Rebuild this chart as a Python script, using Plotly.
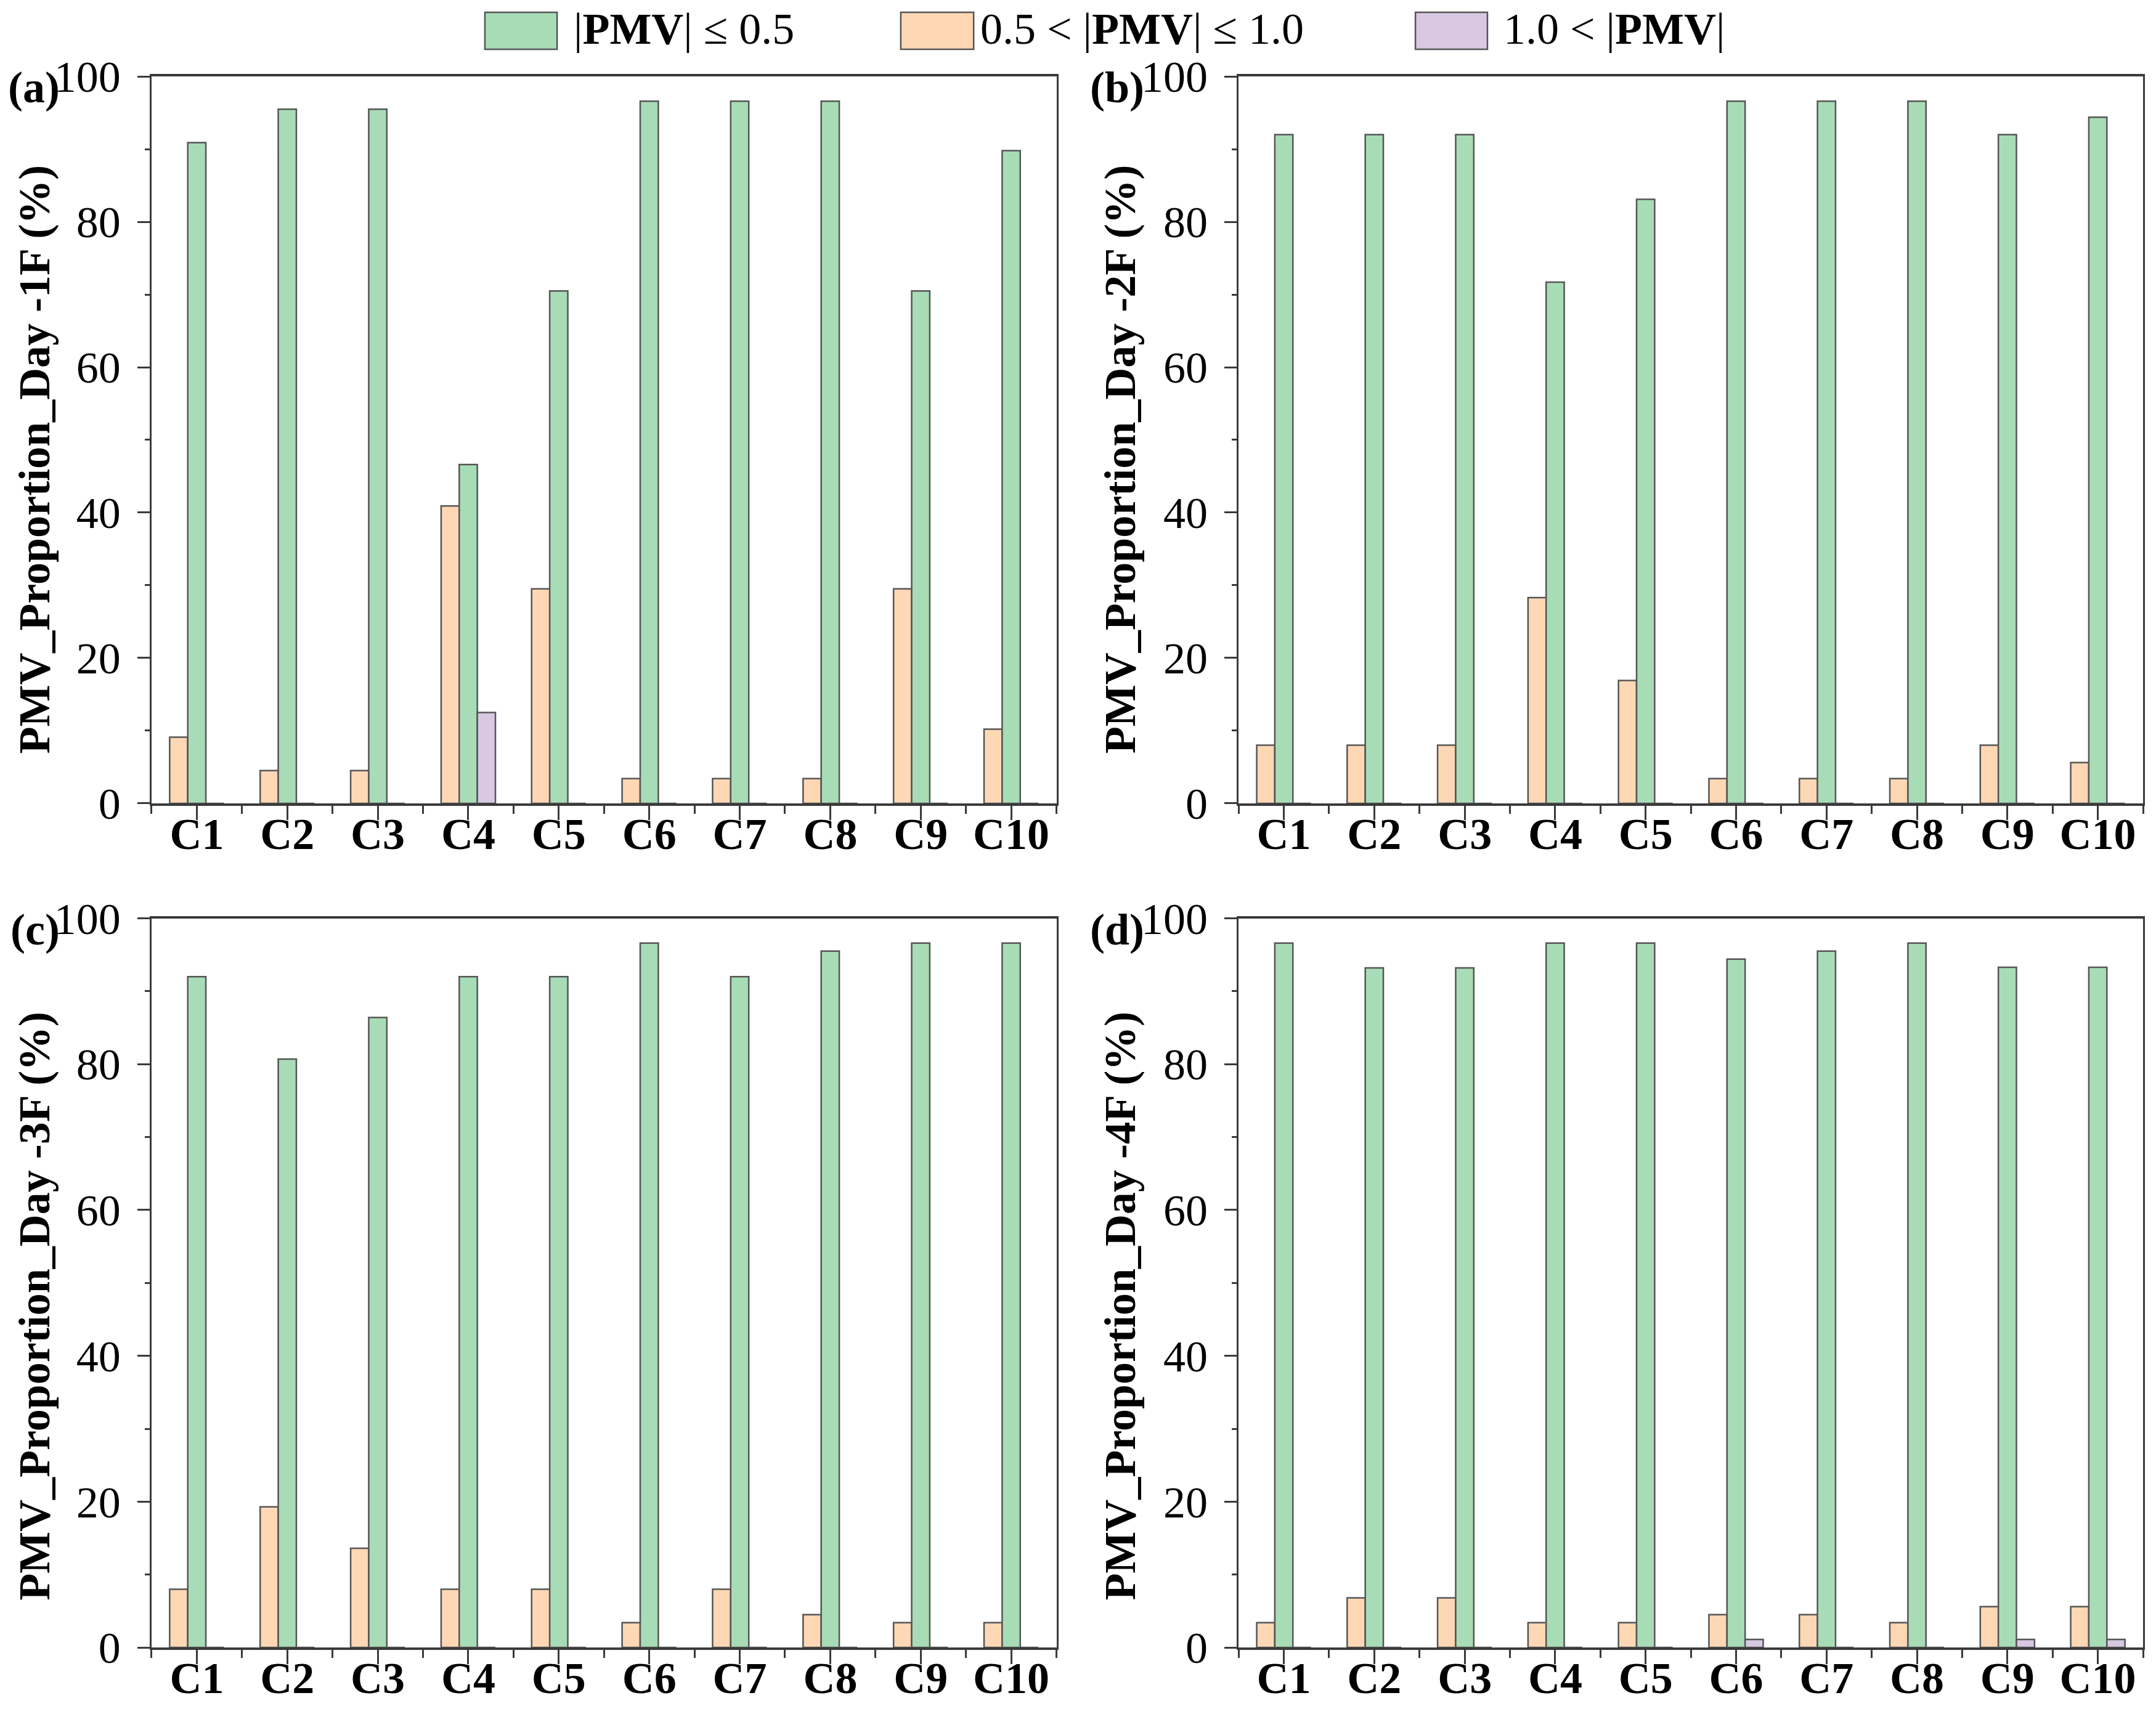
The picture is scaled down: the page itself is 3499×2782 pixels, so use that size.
import plotly.graph_objects as go

# categories (cases)
cases = ['C1', 'C2', 'C3', 'C4', 'C5', 'C6', 'C7', 'C8', 'C9', 'C10']

# PMV proportions (%) per floor
# |PMV| <= 0.5
comfort_1f = [90.9, 95.5, 95.5, 46.6, 70.5, 96.6, 96.6, 96.6, 70.5, 89.8]
comfort_2f = [92.0, 92.0, 92.0, 71.7, 83.1, 96.6, 96.6, 96.6, 92.0, 94.4]
comfort_3f = [92.0, 80.7, 86.4, 92.0, 92.0, 96.6, 92.0, 95.5, 96.6, 96.6]
comfort_4f = [96.6, 93.2, 93.2, 96.6, 96.6, 94.4, 95.5, 96.6, 93.3, 93.3]
# 0.5 < |PMV| <= 1.0
mild_1f = [9.1, 4.5, 4.5, 40.9, 29.5, 3.4, 3.4, 3.4, 29.5, 10.2]
mild_2f = [8.0, 8.0, 8.0, 28.3, 16.9, 3.4, 3.4, 3.4, 8.0, 5.6]
mild_3f = [8.0, 19.3, 13.6, 8.0, 8.0, 3.4, 8.0, 4.5, 3.4, 3.4]
mild_4f = [3.4, 6.8, 6.8, 3.4, 3.4, 4.5, 4.5, 3.4, 5.6, 5.6]
# 1.0 < |PMV|
severe_1f = [0, 0, 0, 12.5, 0, 0, 0, 0, 0, 0]
severe_2f = [0, 0, 0, 0, 0, 0, 0, 0, 0, 0]
severe_3f = [0, 0, 0, 0, 0, 0, 0, 0, 0, 0]
severe_4f = [0, 0, 0, 0, 0, 1.1, 0, 0, 1.1, 1.1]

floors = ['1F', '2F', '3F', '4F']
panel_labels = ['(a)', '(b)', '(c)', '(d)']
y_ticks = [0, 20, 40, 60, 80, 100]

GREEN = '#A8DCB7'
ORANGE = '#FED7B4'
PURPLE = '#D8C8E2'
EDGE = '#555555'
AXIS = '#3a3a3a'
FONT = 'Liberation Serif'

panels = [
    (comfort_1f, mild_1f, severe_1f),
    (comfort_2f, mild_2f, severe_2f),
    (comfort_3f, mild_3f, severe_3f),
    (comfort_4f, mild_4f, severe_4f),
]

# axis domains (paper coords)
x_domains = [[0.0703, 0.490], [0.5745, 0.9940], [0.0703, 0.490], [0.5745, 0.9940]]
y_domains = [[0.5313, 0.9554], [0.5313, 0.9554], [0.0388, 0.4642], [0.0388, 0.4642]]

xpos = list(range(len(cases)))

fig = go.Figure()

for i, (comfort, mild, severe) in enumerate(panels):
    xa = 'x' if i == 0 else f'x{i + 1}'
    ya = 'y' if i == 0 else f'y{i + 1}'
    # order in group: orange, green (centre), purple
    for vals, col, name in [(mild, ORANGE, '0.5 < |PMV| ≤ 1.0'),
                            (comfort, GREEN, '|PMV| ≤ 0.5'),
                            (severe, PURPLE, '1.0 < |PMV|')]:
        fig.add_trace(go.Bar(x=xpos, y=vals, name=name, xaxis=xa, yaxis=ya,
                             marker=dict(color=col, line=dict(color=EDGE, width=2.5)),
                             showlegend=False))

layout_axes = {}
for i in range(4):
    sx = 'xaxis' if i == 0 else f'xaxis{i + 1}'
    sy = 'yaxis' if i == 0 else f'yaxis{i + 1}'
    xa = 'x' if i == 0 else f'x{i + 1}'
    ya = 'y' if i == 0 else f'y{i + 1}'
    layout_axes[sx] = dict(
        domain=x_domains[i], anchor=ya, range=[-0.5, 9.5], automargin=False,
        tickmode='array', tickvals=xpos, ticktext=cases,
        ticks='outside', ticklen=23, tickwidth=2.5, tickcolor=AXIS,
        ticklabelstandoff=-39,
        minor=dict(tick0=-0.5, dtick=1, ticks='outside', ticklen=13,
                   tickwidth=2.5, tickcolor=AXIS),
        showline=True, linewidth=4, linecolor=AXIS, mirror=True,
        showgrid=False, zeroline=False,
        tickfont=dict(family=FONT, size=72, color='black', weight='bold'),
    )
    layout_axes[sy] = dict(
        domain=y_domains[i], anchor=xa, range=[0, 100], automargin=False,
        tickmode='array', tickvals=y_ticks,
        ticks='outside', ticklen=20, tickwidth=3, tickcolor=AXIS,
        ticklabelstandoff=13,
        minor=dict(tick0=0, dtick=10, ticks='outside', ticklen=8,
                   tickwidth=3, tickcolor=AXIS),
        showline=True, linewidth=2.5, linecolor=AXIS, mirror=True,
        showgrid=False, zeroline=False,
        tickfont=dict(family=FONT, size=72, color='black'),
    )

fig.update_layout(**layout_axes)

annotations = []
title_x = [0.0160, 0.5195, 0.0160, 0.5195]
title_y = [0.732, 0.732, 0.238, 0.238]
label_x = [0.0282, 0.5312, 0.0282, 0.5312]
label_y = [0.949, 0.949, 0.4576, 0.4576]
for i in range(4):
    annotations.append(dict(
        text=f'PMV_Proportion_Day -{floors[i]} (%)', textangle=-90,
        x=title_x[i], y=title_y[i], xref='paper', yref='paper',
        xanchor='center', yanchor='middle', showarrow=False,
        font=dict(family=FONT, size=72, color='black', weight='bold')))
    annotations.append(dict(
        text=f'<b>{panel_labels[i]}</b>', x=label_x[i], y=label_y[i],
        xref='paper', yref='paper', xanchor='right', yanchor='middle',
        showarrow=False, font=dict(family=FONT, size=72, color='black')))

# custom legend along the top
legend_items = [
    (GREEN, '|<b>PMV</b>| ≤ 0.5', 0.2249, 0.2584, 0.2655),
    (ORANGE, '0.5 < |<b>PMV</b>| ≤ 1.0', 0.4178, 0.4516, 0.4540),
    (PURPLE, '1.0 < |<b>PMV</b>|', 0.6565, 0.6899, 0.6968),
]
shapes = []
for col, txt, x0, x1, tx in legend_items:
    shapes.append(dict(type='rect', xref='paper', yref='paper',
                       x0=x0, x1=x1, y0=0.9712, y1=0.9928,
                       fillcolor=col, line=dict(color=EDGE, width=2.5)))
    annotations.append(dict(text=txt, x=tx, y=0.983, xref='paper', yref='paper',
                            xanchor='left', yanchor='middle', showarrow=False,
                            font=dict(family=FONT, size=72, color='black')))

fig.update_layout(
    width=3499, height=2782,
    margin=dict(l=0, r=0, t=0, b=0),
    paper_bgcolor='white', plot_bgcolor='white',
    barmode='group', bargap=0.4, bargroupgap=0,
    showlegend=False,
    annotations=annotations, shapes=shapes,
)

fig.write_html("out.html", config={'displayModeBar': False},
               post_script="document.body.style.margin='0';document.body.style.overflow='hidden';")
